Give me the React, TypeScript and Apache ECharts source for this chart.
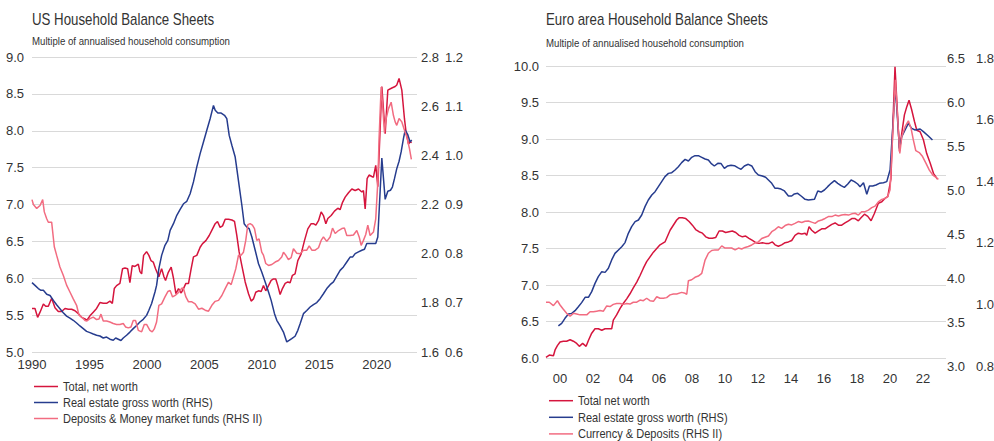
import React, { useEffect, useRef } from "react";
import * as echarts from "echarts";

// ---------- Data (decimal year, value) ----------
const usNetWorth: number[][] = [[1990.0,5.59],[1990.26,5.59],[1990.49,5.47],[1990.7,5.54],[1990.99,5.65],[1991.19,5.62],[1991.42,5.62],[1991.71,5.73],[1992.0,5.6],[1992.29,5.55],[1992.58,5.55],[1992.87,5.59],[1993.16,5.58],[1993.45,5.58],[1993.74,5.56],[1994.03,5.52],[1994.32,5.47],[1994.61,5.45],[1994.78,5.43],[1995.04,5.49],[1995.33,5.54],[1995.62,5.59],[1995.91,5.67],[1996.2,5.66],[1996.49,5.66],[1996.78,5.69],[1996.99,5.66],[1997.16,5.86],[1997.36,5.9],[1997.65,5.93],[1997.88,6.13],[1998.09,6.14],[1998.32,6.13],[1998.52,5.94],[1998.72,6.17],[1998.96,6.16],[1999.25,6.19],[1999.39,6.09],[1999.54,6.06],[1999.71,6.31],[1999.97,6.36],[2000.17,6.31],[2000.35,6.24],[2000.55,6.22],[2000.75,6.13],[2001.04,6.02],[2001.28,6.13],[2001.48,6.02],[2001.62,5.97],[2001.86,6.08],[2002.11,6.15],[2002.31,6.0],[2002.52,5.79],[2002.75,5.86],[2002.98,5.8],[2003.18,5.86],[2003.39,5.93],[2003.62,5.93],[2003.85,6.13],[2004.05,6.29],[2004.34,6.31],[2004.63,6.42],[2004.84,6.47],[2005.13,6.51],[2005.42,6.58],[2005.71,6.67],[2005.94,6.74],[2006.14,6.77],[2006.37,6.69],[2006.58,6.71],[2006.81,6.8],[2007.1,6.8],[2007.39,6.79],[2007.62,6.77],[2007.82,6.58],[2008.02,6.36],[2008.26,6.17],[2008.55,5.95],[2008.84,5.79],[2009.07,5.69],[2009.27,5.72],[2009.47,5.81],[2009.71,5.83],[2009.94,5.82],[2010.14,5.9],[2010.34,5.83],[2010.58,5.9],[2010.81,5.97],[2011.01,5.99],[2011.21,5.99],[2011.39,5.9],[2011.59,5.78],[2011.79,5.86],[2012.03,5.93],[2012.26,5.95],[2012.46,5.94],[2012.66,6.04],[2012.89,6.06],[2013.13,6.24],[2013.42,6.33],[2013.71,6.51],[2014.0,6.67],[2014.29,6.74],[2014.49,6.74],[2014.7,6.72],[2014.93,6.78],[2015.16,6.9],[2015.36,6.85],[2015.57,6.74],[2015.74,6.81],[2016.03,6.85],[2016.32,6.91],[2016.61,6.95],[2016.81,6.93],[2017.02,7.03],[2017.25,7.1],[2017.54,7.16],[2017.83,7.21],[2018.12,7.19],[2018.41,7.21],[2018.7,7.17],[2018.84,7.19],[2018.99,6.94],[2019.16,7.35],[2019.33,7.4],[2019.57,7.38],[2019.71,7.37],[2019.91,7.53],[2020.09,7.24],[2020.44,8.6],[2020.73,7.96],[2020.96,8.55],[2021.31,8.58],[2021.6,8.6],[2021.74,8.62],[2021.94,8.71],[2022.18,8.55],[2022.41,8.16],[2022.55,7.98],[2022.76,7.82],[2022.93,7.85],[2023.04,7.84]];

const usRealEstate: number[][] = [[1990.0,1.882],[1990.26,1.871],[1990.55,1.858],[1990.78,1.851],[1990.99,1.851],[1991.28,1.835],[1991.57,1.83],[1991.86,1.81],[1992.14,1.792],[1992.43,1.776],[1992.72,1.76],[1993.01,1.746],[1993.3,1.738],[1993.59,1.729],[1993.88,1.718],[1994.17,1.706],[1994.46,1.695],[1994.75,1.684],[1995.04,1.679],[1995.33,1.673],[1995.62,1.668],[1995.91,1.665],[1996.2,1.657],[1996.49,1.661],[1996.78,1.652],[1997.07,1.648],[1997.28,1.657],[1997.51,1.652],[1997.74,1.647],[1997.94,1.657],[1998.23,1.668],[1998.52,1.681],[1998.81,1.695],[1999.1,1.708],[1999.39,1.722],[1999.68,1.733],[1999.97,1.749],[2000.17,1.77],[2000.41,1.797],[2000.7,1.844],[2000.84,1.871],[2001.04,1.939],[2001.28,1.993],[2001.57,2.034],[2001.82,2.054],[2002.02,2.095],[2002.31,2.122],[2002.6,2.156],[2002.89,2.18],[2003.18,2.203],[2003.47,2.213],[2003.76,2.244],[2004.05,2.292],[2004.34,2.353],[2004.63,2.407],[2004.92,2.454],[2005.21,2.502],[2005.5,2.549],[2005.79,2.603],[2005.94,2.583],[2006.17,2.572],[2006.46,2.572],[2006.75,2.563],[2006.95,2.549],[2007.16,2.481],[2007.39,2.441],[2007.68,2.393],[2007.82,2.346],[2008.02,2.278],[2008.26,2.197],[2008.46,2.122],[2008.69,2.108],[2008.89,2.102],[2009.13,2.068],[2009.42,2.014],[2009.71,1.959],[2009.99,1.925],[2010.29,1.885],[2010.58,1.844],[2010.81,1.81],[2011.1,1.756],[2011.3,1.729],[2011.59,1.706],[2011.88,1.681],[2012.17,1.641],[2012.37,1.647],[2012.6,1.654],[2012.89,1.664],[2013.13,1.688],[2013.33,1.715],[2013.62,1.756],[2013.91,1.769],[2014.2,1.783],[2014.49,1.793],[2014.78,1.801],[2015.07,1.817],[2015.36,1.837],[2015.65,1.858],[2015.94,1.874],[2016.23,1.885],[2016.52,1.909],[2016.81,1.932],[2017.1,1.946],[2017.39,1.966],[2017.68,1.986],[2017.89,1.986],[2018.12,2.0],[2018.41,2.007],[2018.7,2.014],[2018.93,2.018],[2019.13,2.041],[2019.42,2.041],[2019.71,2.041],[2019.91,2.041],[2020.09,2.068],[2020.44,2.389],[2020.73,2.221],[2020.96,2.254],[2021.19,2.258],[2021.36,2.271],[2021.54,2.305],[2021.74,2.346],[2021.94,2.376],[2022.12,2.414],[2022.32,2.468],[2022.47,2.502],[2022.7,2.484],[2022.9,2.454],[2023.04,2.462]];

const usDeposits: number[][] = [[1990.0,0.91],[1990.12,0.9],[1990.41,0.892],[1990.7,0.898],[1990.93,0.91],[1991.07,0.885],[1991.28,0.871],[1991.42,0.864],[1991.71,0.864],[1991.94,0.814],[1992.14,0.797],[1992.43,0.773],[1992.72,0.756],[1993.01,0.736],[1993.3,0.722],[1993.59,0.708],[1993.88,0.695],[1994.09,0.675],[1994.32,0.671],[1994.61,0.664],[1994.78,0.663],[1995.04,0.668],[1995.33,0.671],[1995.62,0.666],[1995.83,0.667],[1996.0,0.677],[1996.2,0.663],[1996.49,0.663],[1996.78,0.661],[1997.07,0.658],[1997.36,0.656],[1997.65,0.656],[1997.94,0.658],[1998.14,0.651],[1998.38,0.649],[1998.61,0.651],[1998.81,0.664],[1999.01,0.664],[1999.25,0.644],[1999.54,0.641],[1999.77,0.656],[1999.97,0.656],[2000.26,0.644],[2000.46,0.641],[2000.64,0.647],[2000.84,0.661],[2001.04,0.695],[2001.28,0.698],[2001.57,0.712],[2001.82,0.723],[2002.02,0.725],[2002.23,0.712],[2002.46,0.715],[2002.75,0.721],[2003.04,0.73],[2003.18,0.729],[2003.39,0.712],[2003.62,0.702],[2003.91,0.702],[2004.2,0.698],[2004.49,0.687],[2004.78,0.689],[2005.07,0.685],[2005.36,0.683],[2005.65,0.695],[2005.94,0.703],[2006.23,0.705],[2006.52,0.715],[2006.81,0.729],[2007.1,0.742],[2007.33,0.737],[2007.53,0.753],[2007.73,0.769],[2007.97,0.797],[2008.2,0.797],[2008.4,0.803],[2008.6,0.827],[2008.78,0.859],[2008.98,0.861],[2009.18,0.858],[2009.36,0.851],[2009.56,0.827],[2009.76,0.83],[2009.99,0.803],[2010.14,0.797],[2010.34,0.78],[2010.58,0.776],[2010.87,0.778],[2011.16,0.783],[2011.45,0.786],[2011.73,0.793],[2011.88,0.803],[2012.08,0.797],[2012.31,0.788],[2012.55,0.792],[2012.75,0.81],[2013.04,0.801],[2013.33,0.8],[2013.62,0.807],[2013.91,0.807],[2014.12,0.816],[2014.35,0.807],[2014.64,0.807],[2014.93,0.812],[2015.16,0.827],[2015.36,0.834],[2015.65,0.825],[2015.94,0.834],[2016.15,0.852],[2016.38,0.841],[2016.67,0.847],[2016.96,0.851],[2017.19,0.852],[2017.39,0.837],[2017.68,0.837],[2017.97,0.838],[2018.26,0.847],[2018.47,0.834],[2018.64,0.817],[2018.84,0.827],[2019.04,0.839],[2019.22,0.858],[2019.42,0.837],[2019.71,0.844],[2019.91,0.871],[2020.09,0.946],[2020.2,1.034],[2020.38,1.139],[2020.49,1.108],[2020.67,1.046],[2020.78,1.071],[2021.02,1.095],[2021.25,1.108],[2021.45,1.081],[2021.6,1.068],[2021.74,1.061],[2021.94,1.075],[2022.18,1.068],[2022.41,1.051],[2022.62,1.037],[2022.84,1.014],[2023.01,0.992]];

const euNetWorth: number[][] = [[1999.15,6.01],[1999.35,6.04],[1999.6,6.03],[1999.7,6.11],[1999.84,6.17],[2000.0,6.22],[2000.2,6.23],[2000.4,6.23],[2000.61,6.25],[2000.81,6.23],[2001.01,6.2],[2001.17,6.16],[2001.37,6.2],[2001.58,6.16],[2001.72,6.24],[2001.92,6.34],[2002.12,6.4],[2002.32,6.4],[2002.53,6.38],[2002.73,6.4],[2002.93,6.4],[2003.13,6.4],[2003.23,6.52],[2003.43,6.59],[2003.64,6.68],[2003.84,6.75],[2004.04,6.81],[2004.24,6.88],[2004.44,6.96],[2004.65,7.04],[2004.85,7.13],[2005.05,7.23],[2005.25,7.32],[2005.66,7.45],[2006.06,7.55],[2006.36,7.59],[2006.67,7.75],[2007.07,7.89],[2007.21,7.92],[2007.41,7.92],[2007.62,7.91],[2007.82,7.87],[2008.02,7.82],[2008.22,7.76],[2008.42,7.73],[2008.63,7.71],[2008.83,7.66],[2009.03,7.64],[2009.23,7.64],[2009.43,7.65],[2009.64,7.74],[2009.84,7.74],[2010.04,7.72],[2010.24,7.73],[2010.44,7.74],[2010.65,7.72],[2010.85,7.68],[2011.05,7.66],[2011.25,7.67],[2011.45,7.64],[2011.66,7.61],[2011.86,7.58],[2012.06,7.57],[2012.26,7.58],[2012.46,7.57],[2012.67,7.57],[2012.87,7.59],[2013.03,7.55],[2013.23,7.53],[2013.43,7.55],[2013.64,7.58],[2013.84,7.59],[2014.04,7.61],[2014.24,7.68],[2014.44,7.71],[2014.65,7.7],[2014.85,7.71],[2014.95,7.68],[2015.09,7.8],[2015.25,7.75],[2015.46,7.71],[2015.66,7.74],[2015.86,7.77],[2016.06,7.77],[2016.26,7.8],[2016.47,7.83],[2016.67,7.85],[2016.87,7.82],[2017.07,7.82],[2017.27,7.85],[2017.48,7.88],[2017.68,7.91],[2017.88,7.91],[2018.08,7.88],[2018.24,7.92],[2018.45,7.97],[2018.65,7.94],[2018.85,7.88],[2019.05,7.98],[2019.29,8.12],[2019.5,8.14],[2019.7,8.19],[2019.86,8.21],[2020.05,8.45],[2020.3,9.99],[2020.57,8.83],[2020.71,9.08],[2020.87,9.33],[2021.01,9.44],[2021.15,9.53],[2021.31,9.4],[2021.48,9.24],[2021.62,9.12],[2021.82,9.1],[2022.02,8.99],[2022.22,8.8],[2022.43,8.67],[2022.63,8.53],[2022.87,8.45]];

const euRealEstate: number[][] = [[1999.9,3.455],[2000.1,3.485],[2000.3,3.542],[2000.51,3.591],[2000.71,3.598],[2000.91,3.629],[2001.11,3.674],[2001.31,3.72],[2001.52,3.78],[2001.72,3.78],[2001.92,3.845],[2002.12,3.939],[2002.32,4.015],[2002.53,4.072],[2002.73,4.064],[2002.93,4.11],[2003.13,4.205],[2003.33,4.28],[2003.54,4.318],[2003.74,4.356],[2003.94,4.402],[2004.14,4.508],[2004.34,4.583],[2004.55,4.64],[2004.75,4.659],[2004.95,4.716],[2005.15,4.811],[2005.35,4.886],[2005.56,4.943],[2005.76,4.981],[2005.96,5.038],[2006.16,5.095],[2006.36,5.152],[2006.57,5.189],[2006.77,5.197],[2006.97,5.227],[2007.17,5.265],[2007.37,5.311],[2007.58,5.348],[2007.78,5.33],[2007.98,5.371],[2008.18,5.39],[2008.38,5.39],[2008.59,5.371],[2008.79,5.352],[2008.99,5.341],[2009.15,5.303],[2009.35,5.273],[2009.56,5.303],[2009.76,5.3],[2009.96,5.246],[2010.16,5.273],[2010.36,5.28],[2010.57,5.276],[2010.77,5.254],[2010.97,5.235],[2011.17,5.273],[2011.41,5.292],[2011.62,5.273],[2011.82,5.208],[2012.02,5.17],[2012.26,5.159],[2012.46,5.145],[2012.63,5.114],[2012.83,5.076],[2013.03,5.019],[2013.19,5.019],[2013.39,5.011],[2013.6,4.989],[2013.84,4.932],[2014.04,4.932],[2014.2,4.955],[2014.4,4.962],[2014.61,4.932],[2014.85,4.894],[2015.05,4.886],[2015.42,4.894],[2015.62,4.989],[2015.82,4.977],[2016.02,5.0],[2016.22,5.038],[2016.43,5.076],[2016.63,5.106],[2016.83,5.076],[2017.03,5.049],[2017.23,5.03],[2017.44,5.068],[2017.64,5.114],[2017.84,5.095],[2018.04,5.068],[2018.18,5.038],[2018.39,5.083],[2018.59,4.951],[2018.75,5.045],[2018.95,5.045],[2019.15,5.057],[2019.35,5.076],[2019.6,5.083],[2019.8,5.095],[2020.0,5.227],[2020.32,6.174],[2020.57,5.473],[2020.71,5.606],[2020.91,5.682],[2021.11,5.758],[2021.31,5.7],[2021.52,5.682],[2021.82,5.693],[2022.02,5.663],[2022.32,5.614],[2022.57,5.568]];

const euDeposits: number[][] = [[1999.15,1.007],[1999.35,1.007],[1999.6,0.996],[1999.84,1.012],[2000.0,0.998],[2000.2,0.984],[2000.4,0.971],[2000.61,0.962],[2000.81,0.971],[2001.01,0.969],[2001.21,0.966],[2001.41,0.966],[2001.62,0.966],[2001.82,0.976],[2002.02,0.976],[2002.22,0.978],[2002.42,0.98],[2002.63,0.978],[2002.83,0.995],[2003.03,0.993],[2003.23,1.0],[2003.43,1.003],[2003.64,1.003],[2003.84,1.0],[2004.04,1.003],[2004.24,1.001],[2004.44,1.007],[2004.65,1.007],[2004.85,1.014],[2005.05,1.012],[2005.25,1.02],[2005.45,1.012],[2005.66,1.01],[2005.86,1.025],[2006.06,1.02],[2006.26,1.02],[2006.46,1.022],[2006.67,1.031],[2006.87,1.034],[2007.07,1.034],[2007.37,1.039],[2007.58,1.036],[2007.68,1.033],[2007.78,1.077],[2007.98,1.08],[2008.18,1.088],[2008.38,1.092],[2008.59,1.101],[2008.79,1.144],[2008.99,1.166],[2009.19,1.175],[2009.39,1.177],[2009.6,1.177],[2009.8,1.19],[2010.0,1.183],[2010.2,1.183],[2010.4,1.183],[2010.61,1.177],[2010.81,1.183],[2011.01,1.18],[2011.21,1.185],[2011.41,1.188],[2011.62,1.193],[2011.82,1.2],[2012.02,1.203],[2012.22,1.214],[2012.42,1.218],[2012.63,1.222],[2012.83,1.236],[2013.03,1.243],[2013.23,1.252],[2013.43,1.247],[2013.64,1.256],[2013.84,1.26],[2014.04,1.258],[2014.24,1.263],[2014.44,1.269],[2014.65,1.266],[2014.85,1.27],[2015.05,1.271],[2015.25,1.267],[2015.46,1.263],[2015.66,1.271],[2015.86,1.274],[2016.06,1.279],[2016.26,1.285],[2016.47,1.285],[2016.67,1.29],[2016.87,1.287],[2017.07,1.29],[2017.27,1.292],[2017.48,1.29],[2017.68,1.294],[2017.88,1.296],[2018.08,1.29],[2018.28,1.301],[2018.49,1.301],[2018.69,1.306],[2018.89,1.314],[2019.09,1.319],[2019.29,1.333],[2019.5,1.341],[2019.7,1.344],[2019.86,1.35],[2020.0,1.372],[2020.32,1.729],[2020.59,1.49],[2020.71,1.545],[2020.91,1.577],[2021.11,1.596],[2021.27,1.572],[2021.41,1.534],[2021.56,1.499],[2021.77,1.493],[2021.97,1.48],[2022.18,1.458],[2022.38,1.436],[2022.59,1.42],[2022.79,1.412],[2022.93,1.406]];

const euYearTicks: number[] = [2000, 2002, 2004, 2006, 2008, 2010, 2012, 2014, 2016, 2018, 2020, 2022];
const euRhs2Ticks: number[] = [0.8, 1.0, 1.2, 1.4, 1.6, 1.8];
const euXMin = 1999.15;
const euXMax = 2023.39;

const usTitle = "US Household Balance Sheets";
const euTitle = "Euro area Household Balance Sheets";
const subTitle = "Multiple of annualised household consumption";
const usNames = ["Total, net worth", "Real estate gross worth (RHS)", "Deposits & Money market funds (RHS II)"];
const euNames = ["Total net worth", "Real estate gross worth (RHS)", "Currency & Deposits (RHS II)"];

const FONT = "'Liberation Sans', Arial, sans-serif";
const RED = "#D5153D";
const BLUE = "#263C8E";
const PINK = "#F26C81";
const COLORS = [RED, BLUE, PINK];
const TXT = "#333333";
const GRIDC = "#d9d9d9";

// layout of the euro-area right-hand grid
const EU_RHS_GRID = { left: 546, top: 58, width: 400, height: 308 };
const EU_RHS2_OFFSET = 29;
const EU_RHS2_MARGIN = 1;

const fmt1 = (v: number) => v.toFixed(1);

function yAxisBase(extra: any) {
  return {
    type: "value",
    axisLine: { show: false },
    axisTick: { show: false },
    splitLine: { show: false },
    ...extra,
    axisLabel: {
      formatter: fmt1, fontSize: 13, color: TXT, fontFamily: FONT,
      showMinLabel: true, showMaxLabel: true, hideOverlap: false,
      ...(extra.axisLabel || {}),
    },
  };
}

function lineSeries(name: string, data: number[][], color: string, xi: number, yi: number) {
  return {
    type: "line",
    name,
    data,
    xAxisIndex: xi,
    yAxisIndex: yi,
    showSymbol: false,
    symbol: "none",
    lineStyle: { color, width: 1.5 },
    itemStyle: { color },
  };
}

function narrowText(text: string, x: number, y: number, size: number, scale: number) {
  return {
    type: "text",
    x,
    y,
    scaleX: scale,
    silent: true,
    style: { text, fill: TXT, fontSize: size, fontFamily: FONT, verticalAlign: "middle", align: "left" },
  };
}

function legendItems(names: string[], x: number, y0: number, step: number) {
  const out: any[] = [];
  names.forEach((n, i) => {
    const y = y0 + i * step;
    out.push({
      type: "line",
      silent: true,
      shape: { x1: x, y1: y, x2: x + 24, y2: y },
      style: { stroke: COLORS[i], lineWidth: 1.5 },
    });
    out.push(narrowText(n, x + 29, y, 13, 0.85));
  });
  return out;
}

export default function App() {
  const ref = useRef<HTMLDivElement>(null);
  useEffect(() => {
    if (!ref.current) return;
    const chart = echarts.init(ref.current, undefined, { renderer: "svg" });
    const euXRange = { type: "value", min: euXMin, max: euXMax, show: false };
    const topTick = euRhs2Ticks[euRhs2Ticks.length - 1];
    const option: any = {
      animation: false,
      backgroundColor: "#ffffff",
      textStyle: { fontFamily: FONT },
      graphic: [
        narrowText(usTitle, 32, 19.5, 16, 0.83),
        narrowText(subTitle, 32, 41, 11.5, 0.84),
        narrowText(euTitle, 546, 20, 16, 0.83),
        narrowText(subTitle, 546, 42.5, 11.5, 0.84),
        ...legendItems(usNames, 34, 386.5, 16),
        ...legendItems(euNames, 549, 400.7, 16.6),
        {
          // top tick label of the euro RHS II axis (sits at the top edge of its grid)
          type: "text",
          x: EU_RHS_GRID.left + EU_RHS_GRID.width + EU_RHS2_OFFSET + EU_RHS2_MARGIN,
          y: EU_RHS_GRID.top,
          z: 100,
          silent: true,
          style: { text: fmt1(topTick), fill: TXT, fontSize: 13, fontFamily: FONT, verticalAlign: "middle", align: "left" },
        },
      ],
      grid: [
        { left: 32, top: 57, width: 385, height: 295, outerBoundsMode: "none" },
        { left: 546, top: 66, width: 400, height: 292, outerBoundsMode: "none" },
        { ...EU_RHS_GRID, outerBoundsMode: "none" },
        { ...EU_RHS_GRID, outerBoundsMode: "none" },
      ],
      xAxis: [
        {
          gridIndex: 0, type: "value", min: 1990, max: 2023.5, interval: 5,
          axisLine: { show: false }, axisTick: { show: false }, splitLine: { show: false },
          axisLabel: { showMaxLabel: false, margin: 6, fontSize: 13, color: TXT, fontFamily: FONT, formatter: (v: number) => String(Math.round(v)) },
        },
        {
          gridIndex: 1, type: "value", min: euXMin, max: euXMax,
          axisLine: { show: false }, axisTick: { show: false }, splitLine: { show: false },
          axisLabel: {
            customValues: euYearTicks, margin: 14, fontSize: 13, color: TXT, fontFamily: FONT,
            formatter: (v: number) => String(Math.round(v)).slice(2),
          },
        },
        { gridIndex: 2, ...euXRange },
        { gridIndex: 3, ...euXRange },
      ],
      yAxis: [
        yAxisBase({ gridIndex: 0, position: "left", min: 5, max: 9, interval: 0.5, axisLabel: { margin: 8 }, splitLine: { show: true, lineStyle: { color: GRIDC, width: 1 } } }),
        yAxisBase({ gridIndex: 0, position: "right", min: 1.6, max: 2.8, interval: 0.2, axisLabel: { margin: 4 } }),
        yAxisBase({ gridIndex: 0, position: "right", offset: 24, min: 0.6, max: 1.2, interval: 0.1, axisLabel: { margin: 4 } }),
        yAxisBase({ gridIndex: 1, position: "left", min: 6, max: 10, interval: 0.5, axisLabel: { margin: 7 }, splitLine: { show: true, lineStyle: { color: GRIDC, width: 1 } } }),
        yAxisBase({ gridIndex: 2, position: "right", min: 3, max: 6.5, interval: 0.5, axisLabel: { margin: 1 } }),
        yAxisBase({ gridIndex: 3, position: "right", offset: EU_RHS2_OFFSET, min: euRhs2Ticks[0], max: topTick, axisLabel: { margin: EU_RHS2_MARGIN, customValues: euRhs2Ticks.slice(0, -1) } }),
      ],
      series: [
        lineSeries(usNames[0], usNetWorth, RED, 0, 0),
        lineSeries(usNames[1], usRealEstate, BLUE, 0, 1),
        lineSeries(usNames[2], usDeposits, PINK, 0, 2),
        lineSeries(euNames[0], euNetWorth, RED, 1, 3),
        lineSeries(euNames[1], euRealEstate, BLUE, 2, 4),
        lineSeries(euNames[2], euDeposits, PINK, 3, 5),
      ],
    };
    chart.setOption(option);
    return () => chart.dispose();
  }, []);
  return (
    <div
      ref={ref}
      style={{ position: "fixed", left: 0, top: 0, width: 994, height: 441, background: "#fff" }}
    />
  );
}
